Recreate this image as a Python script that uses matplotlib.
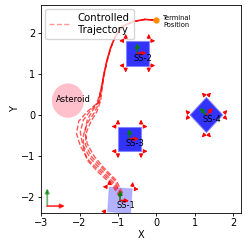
import numpy as np
import matplotlib
matplotlib.use("Agg")
import matplotlib.pyplot as plt
from matplotlib.patches import Circle, Polygon

# ---- data ----
spacecraft_names = ["SS-1", "SS-2", "SS-3", "SS-4"]
spacecraft_x = [-0.95, -0.5, -0.7, 1.3]
spacecraft_y = [-2.07, 1.5, -0.58, 0.0]
spacecraft_angle_deg = [-4, 0, 0, 45]
spacecraft_alpha = [0.3, 0.8, 0.8, 0.8]

asteroid_xy = (-2.3, 0.35)
asteroid_r = 0.4

terminal_xy = (0.0, 2.3)

traj1_x = [-0.93, -1.12, -1.45, -1.78, -1.98, -2.08, -2.02, -1.80, -1.55, -1.45, -1.38, -1.30, -1.20, -1.08, -0.88, -0.60, -0.30, 0.0]
traj1_y = [-1.97, -1.68, -1.38, -1.08, -0.75, -0.45, -0.15, 0.08, 0.28, 0.60, 0.95, 1.30, 1.62, 1.90, 2.15, 2.27, 2.32, 2.30]
traj2_x = [-0.90, -1.10, -1.42, -1.72, -1.92, -1.98, -1.90, -1.72, -1.52, -1.44, -1.37, -1.29, -1.19, -1.07, -0.88, -0.60, -0.30, 0.0]
traj2_y = [-1.95, -1.65, -1.35, -1.05, -0.72, -0.42, -0.12, 0.10, 0.30, 0.62, 0.96, 1.31, 1.63, 1.91, 2.15, 2.27, 2.32, 2.30]
traj3_x = [-0.95, -1.15, -1.50, -1.80, -1.90, -1.90, -1.80, -1.62, -1.48, -1.43, -1.37, -1.29, -1.19, -1.07, -0.88, -0.60, -0.30, 0.0]
traj3_y = [-2.00, -1.70, -1.40, -1.10, -0.80, -0.50, -0.20, 0.05, 0.32, 0.62, 0.96, 1.31, 1.63, 1.91, 2.15, 2.27, 2.32, 2.30]
traj4_x = [-0.92, -1.08, -1.38, -1.68, -1.85, -1.82, -1.70, -1.55, -1.45, -1.41, -1.36, -1.28, -1.18, -1.06, -0.87, -0.60, -0.30, 0.0]
traj4_y = [-1.93, -1.60, -1.32, -1.02, -0.72, -0.42, -0.15, 0.08, 0.35, 0.64, 0.97, 1.32, 1.64, 1.92, 2.16, 2.27, 2.32, 2.30]
traj5_x = [-0.88, -1.05, -1.35, -1.62, -1.80, -1.86, -1.80, -1.65, -1.50, -1.43, -1.37, -1.29, -1.19, -1.07, -0.88, -0.60, -0.30, 0.0]
traj5_y = [-1.90, -1.58, -1.30, -1.00, -0.70, -0.40, -0.12, 0.12, 0.33, 0.63, 0.96, 1.31, 1.63, 1.91, 2.15, 2.27, 2.32, 2.30]
trajectories = [(traj1_x, traj1_y), (traj2_x, traj2_y), (traj3_x, traj3_y),
                (traj4_x, traj4_y), (traj5_x, traj5_y)]

x_ticks = [-3, -2, -1, 0, 1, 2]
y_ticks = [-2, -1, 0, 1, 2]

# ---- figure ----
fig = plt.figure(figsize=(2.49, 2.49), dpi=100)
ax = fig.add_axes([0.165, 0.146, 0.803, 0.834])
ax.set_xlim(-3, 2.2)
ax.set_ylim(-2.37, 2.67)

ax.add_patch(Circle(asteroid_xy, asteroid_r, color="pink", zorder=1))
ax.text(-2.17, 0.38, "Asteroid", fontsize=6, ha="center", va="center", zorder=5)

half = 0.3
def arrow(x0, y0, x1, y1, color, alpha=1.0, ms=5, lw=0.8):
    ax.annotate("", xy=(x1, y1), xytext=(x0, y0),
                arrowprops=dict(arrowstyle="-|>", color=color, alpha=alpha,
                                mutation_scale=ms, lw=lw, shrinkA=0, shrinkB=0),
                zorder=6)

for name, cx, cy, ang, al in zip(spacecraft_names, spacecraft_x, spacecraft_y,
                                 spacecraft_angle_deg, spacecraft_alpha):
    t = np.deg2rad(ang)
    R = np.array([[np.cos(t), -np.sin(t)], [np.sin(t), np.cos(t)]])
    corners = np.array([[-half, -half], [half, -half], [half, half], [-half, half]])
    pts = corners @ R.T + [cx, cy]
    ax.add_patch(Polygon(pts, closed=True, facecolor="blue", edgecolor="#8080ff",
                         alpha=al, lw=0.8, zorder=2))
    # thrusters
    d0, d1 = 0.06, 0.17
    for sx in (-1, 1):
        for sy in (-1, 1):
            for p0, p1 in (((sx * half, sy * (half + d0)), (sx * half, sy * (half + d1))),
                           ((sx * (half + d0), sy * half), (sx * (half + d1), sy * half))):
                a = R @ np.array(p0) + [cx, cy]
                b = R @ np.array(p1) + [cx, cy]
                arrow(a[0], a[1], b[0], b[1], "red", ms=5.5, lw=0.8)
    # body frame
    L = 0.24
    bx = R @ np.array([L, 0]) + [cx, cy]
    by = R @ np.array([0, L]) + [cx, cy]
    arrow(cx, cy, by[0], by[1], "green", ms=6, lw=1.0)
    arrow(cx, cy, bx[0], bx[1], "red", ms=6, lw=1.0)
    ax.text(cx + 0.15, cy - 0.12, name, fontsize=6, ha="center", va="center", zorder=7)

for i, (tx, ty) in enumerate(trajectories):
    ax.plot(tx, ty, "--", color="red", alpha=0.65, lw=1.0, zorder=4,
            label="Controlled\nTrajectory" if i == 0 else None)

ax.plot(*terminal_xy, "o", color="darkorange", ms=3.5, zorder=8)
ax.text(0.18, 2.28, "Terminal\nPosition", fontsize=4.8, ha="left", va="center")

# inertial frame
arrow(-2.84, -2.21, -2.84, -1.78, "green", alpha=0.55, ms=6, lw=1.3)
arrow(-2.84, -2.21, -2.38, -2.21, "red", alpha=0.75, ms=6, lw=1.3)

ax.set_xticks(x_ticks)
ax.set_yticks(y_ticks)
ax.tick_params(labelsize=7, length=2.5, width=0.6, pad=1.5)
ax.set_xlabel("X", fontsize=7, labelpad=1)
ax.set_ylabel("Y", fontsize=7, labelpad=1)
for s in ax.spines.values():
    s.set_linewidth(0.6)

leg = ax.legend(loc="upper left", fontsize=7.3, handlelength=2.0,
                borderaxespad=0.4)
for h in leg.get_lines():
    h.set_alpha(0.4)

fig.savefig("out.png", dpi=100)
